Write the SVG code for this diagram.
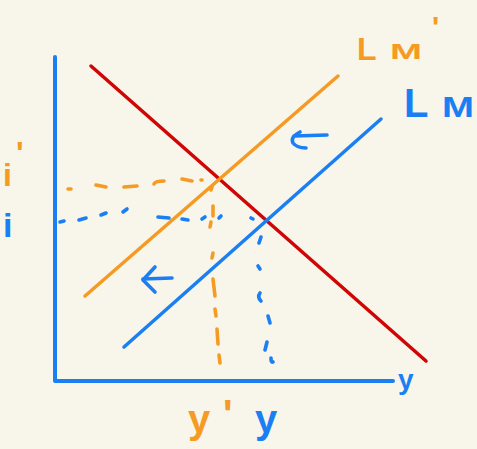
<svg xmlns="http://www.w3.org/2000/svg" width="477" height="449" viewBox="0 0 477 449">
<style>
.b{stroke:#1b7ff4;fill:none;stroke-linecap:round;stroke-linejoin:round}
.o{stroke:#f59b24;fill:none;stroke-linecap:round;stroke-linejoin:round}
.r{stroke:#d00606;fill:none;stroke-linecap:round}
.d{stroke-width:3.6}
.t{font-family:"Liberation Sans",Arial,sans-serif;font-weight:bold}
.tb{fill:#1b7ff4}
.to{fill:#f59b24}
</style>
<rect width="477" height="449" fill="#f8f5ea"/>
<g id="axes">
<path class="b" stroke-width="4" d="M55,57 L55,381 L393,381"/>
</g>
<g id="connectors">
<path id="IS" class="r" stroke-width="3.5" d="M91,66 L426,361"/>
<path id="LMprime" class="o" stroke-width="3.5" d="M85,296 L338,76"/>
<path id="LM" class="b" stroke-width="3.5" d="M124,347 L381,119"/>
<g id="orange-dashes" class="o d">
<path d="M68,189 L71,189"/>
<path d="M96,185 L106,187"/>
<path d="M124,187 L137,186"/>
<path d="M154,184 Q155,181 164,181"/>
<path d="M182,179 L192,181"/>
<path d="M201,180 L202,180"/>
<path d="M212,187 L211,190"/>
<path d="M213,206 L213,216"/>
<path d="M211,222 L210,227"/>
<path d="M213,253 L212,258"/>
<path d="M213,279 L215,296"/>
<path d="M215,309 L216,316"/>
<path d="M217,329 L218,344"/>
<path d="M219,355 L220,363"/>
</g>
<g id="blue-dashes" class="b d">
<path d="M60,222 L64,221"/>
<path d="M79,220 L86,218"/>
<path d="M101,215 L106,213"/>
<path d="M123,212 L127,209"/>
<path d="M158,217 L169,218"/>
<path d="M182,219 L188,220"/>
<path d="M202,219 L205,217"/>
<path d="M219,218 L221,216"/>
<path d="M251,218 L253,219"/>
<path d="M261,237 L259,243"/>
<path d="M258,266 L260,269"/>
<path d="M260,293 Q257,297 261,301"/>
<path d="M268,316 L270,323"/>
<path d="M267,342 L265,350"/>
<path d="M271,358 Q271,363 273,362"/>
</g>
<g id="arrows" class="b d">
<path d="M300,132 Q290,137 293,143 Q297,148 306,148"/>
<path d="M294,136 L327,135"/>
<path d="M155,267 L143,280 L155,292"/>
<path d="M143,279 L172,278"/>
</g>
</g>
<g id="label-LMprime"><text class="t to"><tspan x="357" y="60" font-size="32">L</tspan><tspan x="390" y="59" font-size="22" textLength="32" lengthAdjust="spacingAndGlyphs">M</tspan><tspan x="432" y="37" font-size="30">'</tspan></text></g>
<g id="label-LM"><text class="t tb"><tspan x="404" y="117" font-size="40">L</tspan><tspan x="442" y="117" font-size="29" textLength="32" lengthAdjust="spacingAndGlyphs">M</tspan></text></g>
<g id="label-iprime"><text class="t to" font-size="32"><tspan x="3" y="186">i</tspan><tspan x="16" y="164">'</tspan></text></g>
<g id="label-i"><text class="t tb" font-size="34" x="3" y="237">i</text></g>
<g id="label-yprime"><text class="t to" font-size="40"><tspan x="188" y="433">y</tspan><tspan x="223" y="428">'</tspan></text></g>
<g id="label-y"><text class="t tb" font-size="40" x="255" y="433">y</text></g>
<g id="label-axis-y"><text class="t tb" font-size="28" x="398" y="389">y</text></g>
</svg>
